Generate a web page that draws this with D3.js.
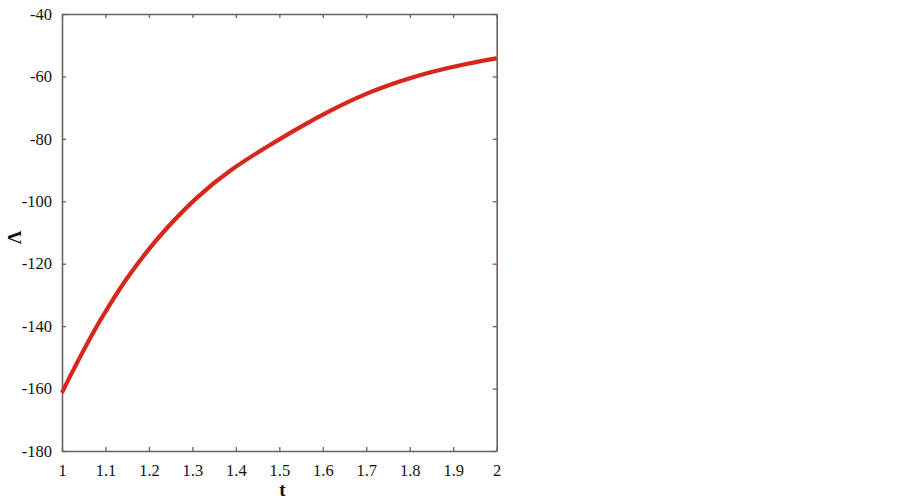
<!DOCTYPE html>
<html>
<head>
<meta charset="utf-8">
<script src="https://cdn.jsdelivr.net/npm/d3@7"></script>
<style>
  html, body { margin: 0; padding: 0; background: #ffffff; }
  svg { display: block; }
</style>
</head>
<body>
<svg id="chart" width="902" height="501"></svg>
<script>
// Data
const tValues = [1.0, 1.02, 1.07, 1.11, 1.15, 1.195, 1.24, 1.31, 1.39, 1.47, 1.55, 1.62, 1.70, 1.78, 1.85, 1.93, 2.0];
const lambdaValues = [-161.4, -155.7, -142.5, -133.1, -124.6, -116.2, -108.8, -98.9, -89.9, -82.7, -76.1, -70.8, -65.6, -61.5, -58.6, -56.0, -54.2];
const xTicks = [1, 1.1, 1.2, 1.3, 1.4, 1.5, 1.6, 1.7, 1.8, 1.9, 2];
const yTicks = [-180, -160, -140, -120, -100, -80, -60, -40];
const xLabel = "t";
const yLabel = "Λ";

(function () {
const axisColor = "#6e5f5b";
const lineColor = "#d6271f";

const svg = d3.select("#chart");
const mLeft = 62, mRight = 496.7, mTop = 14, mBottom = 451;

const x = d3.scaleLinear().domain([1, 2]).range([mLeft, mRight]);
const y = d3.scaleLinear().domain([-180, -40]).range([mBottom, mTop]);

const tickLen = 4;

const gB = svg.append("g").attr("transform", `translate(0,${mBottom})`)
  .call(d3.axisBottom(x).tickValues(xTicks).tickSizeInner(-tickLen).tickSizeOuter(0).tickPadding(13).tickFormat(d => String(d)));
const gT = svg.append("g").attr("transform", `translate(0,${mTop})`)
  .call(d3.axisTop(x).tickValues(xTicks).tickSizeInner(-tickLen).tickSizeOuter(0).tickFormat(""));
const gL = svg.append("g").attr("transform", `translate(${mLeft},0)`)
  .call(d3.axisLeft(y).tickValues(yTicks).tickSizeInner(-tickLen).tickSizeOuter(0).tickPadding(10).tickFormat(d => String(d)));
const gR = svg.append("g").attr("transform", `translate(${mRight},0)`)
  .call(d3.axisRight(y).tickValues(yTicks).tickSizeInner(-tickLen).tickSizeOuter(0).tickFormat(""));

[gB, gT, gL, gR].forEach(g => {
  g.select(".domain").attr("stroke", axisColor).attr("stroke-width", 1.6);
  g.selectAll(".tick line").attr("stroke", axisColor).attr("stroke-width", 1.3);
  g.selectAll(".tick text")
    .attr("fill", "#111111")
    .attr("font-family", "'Liberation Serif', 'Times New Roman', serif")
    .attr("font-size", 16.5);
});

const line = d3.line()
  .x((d, i) => x(tValues[i]))
  .y(d => y(d))
  .curve(d3.curveNatural);

svg.append("path")
  .datum(lambdaValues)
  .attr("fill", "none")
  .attr("stroke", lineColor)
  .attr("stroke-width", 4.2)
  .attr("d", line);

svg.append("text")
  .attr("x", (mLeft + mRight) / 2 + 3)
  .attr("y", 496)
  .attr("text-anchor", "middle")
  .attr("font-family", "'Liberation Serif', 'Times New Roman', serif")
  .attr("font-weight", "bold")
  .attr("font-size", 19)
  .attr("fill", "#111111")
  .text(xLabel);

svg.append("text")
  .attr("transform", `translate(21,${(mTop + mBottom) / 2 + 5}) rotate(-90)`)
  .attr("text-anchor", "middle")
  .attr("font-family", "'Liberation Serif', 'Times New Roman', serif")
  .attr("font-weight", "bold")
  .attr("font-size", 19)
  .attr("fill", "#111111")
  .text(yLabel);
})();
</script>
</body>
</html>
